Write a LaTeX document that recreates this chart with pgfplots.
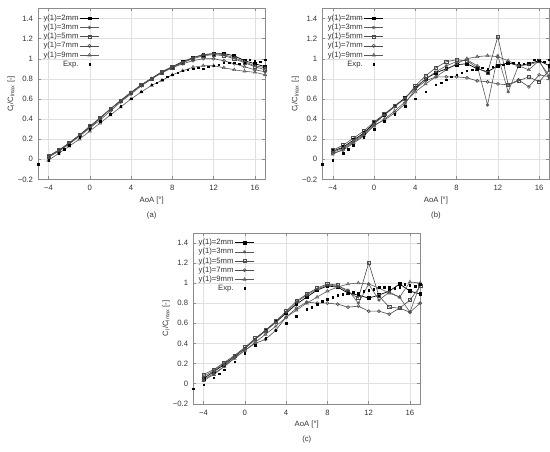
\documentclass[border=0pt]{standalone}
\usepackage{pgfplots}
\pgfplotsset{compat=1.18}
\usepackage{pgfplotstable}
\usepackage{fontspec}
\setmainfont{Liberation Sans}

\pgfplotstableread{
x y
-5 -0.05
-4 -0.01
-3 0.06
-2.5 0.10
-2 0.14
-1 0.22
0 0.30
1 0.38
2 0.45
3 0.53
4 0.60
5 0.67
6 0.74
6.5 0.76
7 0.79
7.5 0.82
8 0.84
8.5 0.86
9 0.88
9.5 0.89
10 0.90
10.5 0.91
11 0.90
11.5 0.92
12 0.93
12.5 0.94
13 0.96
13.5 0.96
14 0.96
14.5 0.95
15 0.96
15.5 0.99
16 0.98
16.5 0.97
17 0.99
}\expdata

% panel (a)
\pgfplotstableread{
x a2 a3 a5 a7 a9
-4 0.03 0.03 0.03 0.02 -0.01
-3 0.09 0.09 0.09 0.08 0.06
-2 0.16 0.16 0.16 0.15 0.13
-1 0.24 0.24 0.24 0.23 0.20
0 0.32 0.32 0.33 0.31 0.28
1 0.41 0.41 0.41 0.39 0.36
2 0.50 0.50 0.50 0.48 0.44
3 0.585 0.585 0.58 0.57 0.52
4 0.665 0.665 0.66 0.65 0.60
5 0.74 0.74 0.74 0.73 0.67
6 0.805 0.805 0.80 0.80 0.735
7 0.87 0.87 0.865 0.86 0.785
8 0.92 0.92 0.915 0.91 0.84
9 0.97 0.965 0.96 0.95 0.88
10 1.01 1.01 1.00 0.98 0.915
11 1.04 1.04 1.03 1.00 0.93
12 1.05 1.05 1.04 1.00 0.93
13 1.05 1.04 1.03 0.98 0.91
14 1.03 1.01 1.00 0.95 0.89
15 0.98 0.97 0.96 0.92 0.875
16 0.95 0.93 0.92 0.89 0.865
17 0.92 0.91 0.89 0.87 0.84
}\dataA

% panel (b)
\pgfplotstableread{
x a2 a3 a5 a7 a9
-4 0.08 0.07 0.09 0.06 0.05
-3 0.12 0.11 0.14 0.09 0.10
-2 0.19 0.18 0.21 0.16 0.17
-1 0.26 0.25 0.28 0.23 0.24
0 0.36 0.35 0.37 0.34 0.33
1 0.44 0.44 0.45 0.39 0.40
2 0.53 0.52 0.53 0.46 0.48
3 0.61 0.61 0.60 0.55 0.57
4 0.71 0.71 0.73 0.70 0.67
5 0.80 0.80 0.83 0.78 0.75
6 0.86 0.87 0.91 0.82 0.82
7 0.90 0.93 0.97 0.82 0.89
8 0.94 0.97 0.99 0.82 0.95
9 0.95 0.99 0.98 0.81 1.00
10 0.90 0.93 0.91 0.78 1.02
11 0.87 0.54 0.86 0.77 1.03
12 0.93 1.03 1.22 0.75 1.02
13 0.96 0.67 0.74 0.74 0.98
14 0.93 0.93 0.78 0.79 0.93
15 0.95 0.94 0.82 0.72 0.89
16 0.98 0.97 0.77 0.84 0.98
17 0.93 0.83 0.89 0.82 0.80
}\dataB

% panel (c)
\pgfplotstableread{
x a2 a3 a5 a7 a9
-4 0.05 0.07 0.09 0.04 0.03
-3 0.12 0.13 0.14 0.10 0.09
-2 0.19 0.20 0.21 0.17 0.17
-1 0.27 0.27 0.28 0.26 0.25
0 0.35 0.35 0.36 0.33 0.33
1 0.44 0.44 0.45 0.40 0.41
2 0.53 0.52 0.53 0.44 0.49
3 0.61 0.61 0.62 0.53 0.57
4 0.70 0.71 0.72 0.66 0.66
5 0.79 0.81 0.82 0.75 0.73
6 0.86 0.88 0.89 0.81 0.80
7 0.93 0.94 0.95 0.80 0.86
8 0.97 0.98 0.99 0.80 0.92
9 0.96 0.97 0.98 0.79 0.96
10 0.90 0.93 0.91 0.76 0.99
11 0.88 0.80 0.85 0.77 1.00
12 0.85 0.99 1.20 0.72 0.99
13 0.88 0.83 0.87 0.72 0.95
14 0.92 0.91 0.76 0.69 0.90
15 0.99 0.86 0.75 0.75 0.86
16 0.92 0.71 0.83 0.71 1.01
17 0.89 0.99 0.97 0.80 1.00
}\dataC

\newcommand{\fs}{\fontsize{7.7}{9}\selectfont}

\pgfplotsset{
  legend image code/.code={\draw[mark repeat=2,mark phase=2,#1] plot coordinates {(0pt,0pt) (9.5pt,0pt) (19pt,0pt)};},
  panel/.style={
    scale only axis, width=227pt, height=171pt,
    xmin=-5, xmax=17, ymin=-0.2, ymax=1.5,
    xtick={-4,0,4,8,12,16}, xticklabels={−4,0,4,8,12,16},
    ytick={-0.2,0,0.2,0.4,0.6,0.8,1,1.2,1.4},
    yticklabels={−0.2,0,0.2,0.4,0.6,0.8,1,1.2,1.4},
    tick label style={font=\fs, text=black!80},
    yticklabel style={inner sep=0pt, xshift=-5pt},
    xticklabel style={inner sep=0pt, yshift=-6pt},
    axis line style={black!45},
    tick style={black!45, line width=0.4pt},
    major tick length=3pt,
    grid=major, major grid style={black!12, line width=0.4pt},
    xlabel={AoA [°]}, ylabel={C\textsubscript{l}/C\textsubscript{lmax} [-]},
    label style={font=\fs, text=black!80},
    xlabel style={at={(axis description cs:0.5,-0.123)}, anchor=center},
    ylabel style={at={(axis description cs:-0.119,0.5)}, anchor=center},
    clip=false,
    legend style={at={(rel axis cs:0,1)}, anchor=north west, xshift=1pt, yshift=-3pt,
      draw=none, fill=none, font=\fs, text=black!80, row sep=-0.3pt,
      nodes={inner sep=1.2pt}},
    legend cell align=right, legend plot pos=right,
  },
  s2/.style={black, line width=0.7pt, mark=square*, mark size=1.4pt, mark options={solid}},
  s3/.style={black!65, line width=0.6pt, mark=asterisk, mark size=1.7pt},
  s5/.style={black!70, line width=0.6pt, mark=square, mark size=1.6pt, mark options={fill=white}},
  s7/.style={black!70, line width=0.6pt, mark=o, mark size=1.5pt, mark options={fill=white}},
  s9/.style={black!65, line width=0.6pt, mark=triangle, mark size=1.8pt, mark options={fill=white}},
  sexp/.style={black, only marks, mark=square*, mark size=0.75pt},
}

\begin{document}
\begin{tikzpicture}[x=1pt,y=1pt]
\path[use as bounding box] (0,0) rectangle (550,451);

\begin{axis}[panel, at={(37,270)}, anchor=south west]
\addplot[s2] table[x=x,y=a2] {\dataA}; \addlegendentry{y(1)=2mm}
\addplot[s3] table[x=x,y=a3] {\dataA}; \addlegendentry{y(1)=3mm}
\addplot[s5] table[x=x,y=a5] {\dataA}; \addlegendentry{y(1)=5mm}
\addplot[s7] table[x=x,y=a7] {\dataA}; \addlegendentry{y(1)=7mm}
\addplot[s9] table[x=x,y=a9] {\dataA}; \addlegendentry{y(1)=9mm}
\addplot[sexp] table[x=x,y=y] {\expdata}; \addlegendentry{Exp.}
\node[font=\fs, text=black!80] at (axis description cs:0.5,-0.21) {(a)};
\end{axis}

\begin{axis}[panel, at={(312.5,270)}, anchor=south west]
\addplot[s2] table[x=x,y=a2] {\dataB}; \addlegendentry{y(1)=2mm}
\addplot[s3] table[x=x,y=a3] {\dataB}; \addlegendentry{y(1)=3mm}
\addplot[s5] table[x=x,y=a5] {\dataB}; \addlegendentry{y(1)=5mm}
\addplot[s7] table[x=x,y=a7] {\dataB}; \addlegendentry{y(1)=7mm}
\addplot[s9] table[x=x,y=a9] {\dataB}; \addlegendentry{y(1)=9mm}
\addplot[sexp] table[x=x,y=y] {\expdata}; \addlegendentry{Exp.}
\node[font=\fs, text=black!80] at (axis description cs:0.5,-0.21) {(b)};
\end{axis}

\begin{axis}[panel, at={(187.3,47)}, anchor=south west]
\addplot[s2] table[x=x,y=a2] {\dataC}; \addlegendentry{y(1)=2mm}
\addplot[s3] table[x=x,y=a3] {\dataC}; \addlegendentry{y(1)=3mm}
\addplot[s5] table[x=x,y=a5] {\dataC}; \addlegendentry{y(1)=5mm}
\addplot[s7] table[x=x,y=a7] {\dataC}; \addlegendentry{y(1)=7mm}
\addplot[s9] table[x=x,y=a9] {\dataC}; \addlegendentry{y(1)=9mm}
\addplot[sexp] table[x=x,y=y] {\expdata}; \addlegendentry{Exp.}
\node[font=\fs, text=black!80] at (axis description cs:0.5,-0.21) {(c)};
\end{axis}
\end{tikzpicture}
\end{document}
